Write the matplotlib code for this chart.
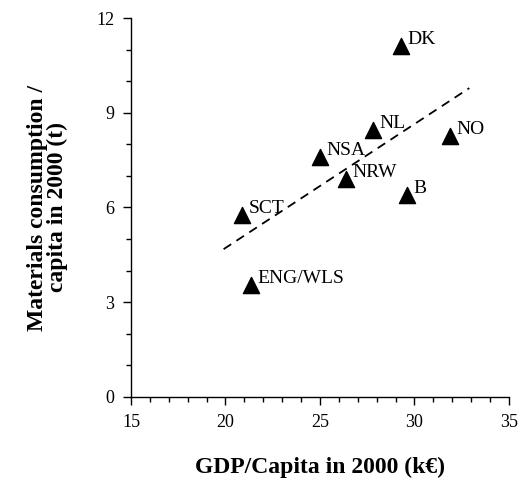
import matplotlib
matplotlib.use("Agg")
import matplotlib.pyplot as plt
from matplotlib.ticker import MultipleLocator

# GDP per capita (k EUR) vs materials consumption per capita (t), year 2000
regions = ["DK", "NL", "NO", "NSA", "NRW", "B", "SCT", "ENG/WLS"]
gdp = [29.3, 27.8, 31.9, 25.0, 26.4, 29.6, 20.9, 21.35]
materials = [11.1, 8.45, 8.25, 7.6, 6.9, 6.4, 5.75, 3.55]

# dashed trend line endpoints
trend_x = [19.9, 32.9]
trend_y = [4.68, 9.78]

plt.rcParams["font.family"] = ["Liberation Serif", "DejaVu Serif"]

fig = plt.figure(figsize=(5.25, 4.8), dpi=100)
ax = fig.add_axes([0.2495, 0.173, 0.72, 0.7895])

ax.plot(trend_x, trend_y, ls=(0, (5, 3.5)), color="black", lw=1.3)
ax.scatter(gdp, materials, marker="^", s=135, color="black", zorder=3)
for name, x, y in zip(regions, gdp, materials):
    ax.annotate(name, (x, y), xytext=(4.5, 1.5), textcoords="offset points",
                ha="left", va="baseline", fontsize=14)

ax.set_xlim(15, 35)
ax.set_ylim(0, 12)
ax.xaxis.set_major_locator(MultipleLocator(5))
ax.xaxis.set_minor_locator(MultipleLocator(1))
ax.yaxis.set_major_locator(MultipleLocator(3))
ax.yaxis.set_minor_locator(MultipleLocator(1))
ax.tick_params(which="major", length=6, width=1, labelsize=13, pad=6)
ax.tick_params(which="minor", length=3.5, width=1)
for s in ("top", "right"):
    ax.spines[s].set_visible(False)
for s in ("left", "bottom"):
    ax.spines[s].set_linewidth(1)

ax.set_xlabel("GDP/Capita in 2000 (k€)", fontsize=17, fontweight="bold", labelpad=19)
ax.set_ylabel("Materials consumption /\ncapita in 2000 (t)", fontsize=17,
              fontweight="bold", labelpad=20, linespacing=0.95)

fig.savefig("out.png", dpi=100)
